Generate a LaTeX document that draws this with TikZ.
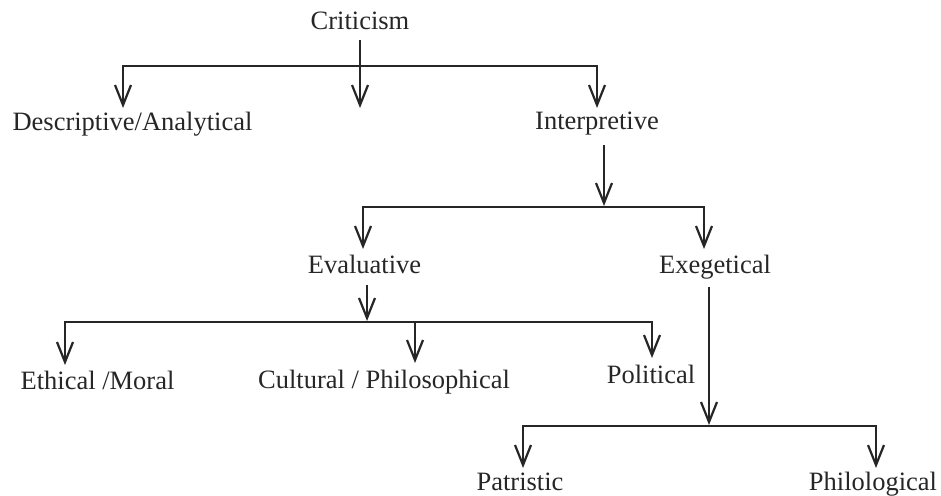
\documentclass[tikz,border=0pt]{standalone}
\usepackage{fontspec}
\setmainfont{Liberation Serif}
\usetikzlibrary{arrows.meta}
\begin{document}
\begin{tikzpicture}[x=1pt,y=-1pt,
  lbl/.style={font=\fontsize{26.5}{30}\selectfont, inner sep=0pt, anchor=base, text=black!85},
  ln/.style={line width=2.2pt, draw=black!85},
  tip/.style={-{Straight Barb[length=20pt,width=16pt,line width=2.2pt]}},
  twotips/.style={{Straight Barb[length=20pt,width=16pt,line width=2.2pt]}-{Straight Barb[length=20pt,width=16pt,line width=2.2pt]}}]
\useasboundingbox (0,0) rectangle (941,495);
% nodes
\node[lbl] (crit)   at (360,29.5) {Criticism};
\node[lbl] (desc)   at (132.5,130) {Descriptive/Analytical};
\node[lbl] (interp) at (597,129) {Interpretive};
\node[lbl] (eval)   at (364.5,273) {Evaluative};
\node[lbl] (exeg)   at (715,273) {Exegetical};
\node[lbl] (eth)    at (97.5,389) {Ethical /Moral};
\node[lbl] (cult)   at (384,388) {Cultural / Philosophical};
\node[lbl] (pol)    at (651,383) {Political};
\node[lbl] (pat)    at (520,490) {Patristic};
\node[lbl] (phil)   at (873,490) {Philological};
% coordinates
\coordinate (c0) at (360,40);
\coordinate (c1) at (360,66);
\coordinate (cm) at (360,108);
\coordinate (cd) at (123,108);
\coordinate (ci) at (597,108);
\coordinate (i0) at (604,145);
\coordinate (i1) at (604,207);
\coordinate (ie) at (363,249);
\coordinate (ix) at (704,249);
\coordinate (e0) at (367,285);
\coordinate (e1) at (367,322);
\coordinate (ee) at (65,365);
\coordinate (ec0) at (415,322);
\coordinate (ec) at (415,363);
\coordinate (ep) at (652,358);
\coordinate (x0) at (709,287);
\coordinate (x1) at (709,426);
\coordinate (xp) at (523,468);
\coordinate (xh) at (876,468);
% connectors
\draw[ln,tip] (c0) -- (cm);
\draw[ln,twotips] (cd) |- (c1) -| (ci);
\draw[ln,tip] (i0) -- ([yshift=1pt]i1);
\draw[ln,twotips] (ie) |- (i1) -| (ix);
\draw[ln,tip] (e0) -- ([yshift=1pt]e1);
\draw[ln,twotips] (ee) |- (e1) -| (ep);
\draw[ln,tip] (ec0) -- (ec);
\draw[ln,tip] (x0) -- ([yshift=1pt]x1);
\draw[ln,twotips] (xp) |- (x1) -| (xh);
\end{tikzpicture}
\end{document}
